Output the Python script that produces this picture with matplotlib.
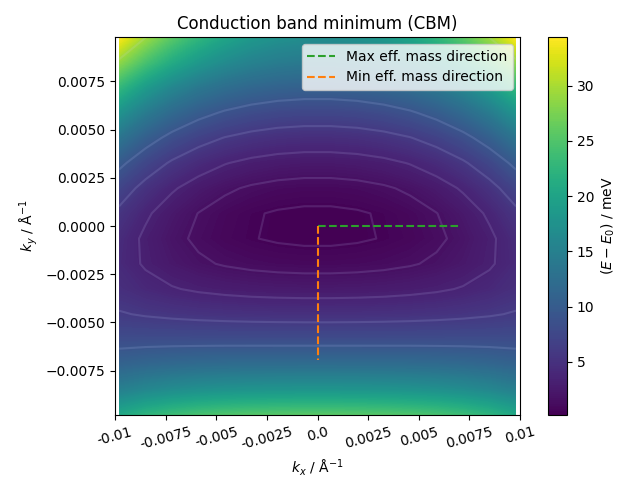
import numpy as np
import matplotlib
matplotlib.use("Agg")
import matplotlib.pyplot as plt

# k grid (1/Angstrom), 16 x 16 points
kx = np.linspace(-0.0098, 0.0098, 16)
ky = np.linspace(-0.0098, 0.0098, 16)

# E - E0 (meV) for kx >= 0, rows from ky = -0.0098 (bottom) to +0.0098 (top);
# the band is mirror symmetric in kx
e_half = [
    [25.47, 25.39, 25.22, 24.90, 24.37, 23.54, 22.31, 20.53],
    [17.86, 17.81, 17.71, 17.52, 17.21, 16.70, 15.95, 14.85],
    [12.27, 12.25, 12.21, 12.14, 12.00, 11.77, 11.42, 10.89],
    [8.04, 8.05, 8.06, 8.08, 8.09, 8.10, 8.09, 8.05],
    [4.83, 4.86, 4.92, 5.02, 5.17, 5.38, 5.66, 6.04],
    [2.49, 2.54, 2.64, 2.82, 3.08, 3.47, 4.01, 4.76],
    [0.96, 1.03, 1.17, 1.41, 1.78, 2.34, 3.12, 4.21],
    [0.20, 0.29, 0.47, 0.78, 1.26, 1.97, 2.99, 4.40],
    [0.21, 0.31, 0.53, 0.91, 1.51, 2.38, 3.63, 5.36],
    [0.95, 1.07, 1.34, 1.80, 2.51, 3.57, 5.07, 7.15],
    [2.41, 2.56, 2.88, 3.43, 4.28, 5.54, 7.32, 9.78],
    [4.57, 4.74, 5.13, 5.78, 6.79, 8.28, 10.38, 13.29],
    [7.35, 7.56, 8.02, 8.80, 10.00, 11.75, 14.24, 17.66],
    [10.61, 10.86, 11.41, 12.34, 13.76, 15.83, 18.76, 22.79],
    [14.01, 14.40, 15.20, 16.50, 18.40, 21.00, 24.40, 28.60],
    [16.88, 17.40, 18.50, 20.20, 22.60, 25.60, 29.40, 34.40],
]

line_levels = [0.42, 1.54, 3.34, 5.86, 9.1, 29.26]
max_dir_len = 0.00693
min_dir_len = 0.00693
cbar_ticks = [5, 10, 15, 20, 25, 30]

xtick_pos = [-0.01, -0.0075, -0.005, -0.0025, 0.0, 0.0025, 0.005, 0.0075, 0.01]
xtick_lab = ['-0.01', '-0.0075', '-0.005', '-0.0025', '0.0', '0.0025', '0.005', '0.0075', '0.01']

half = np.array(e_half)
E = np.hstack([half[:, ::-1], half])
KX, KY = np.meshgrid(kx, ky)

fig = plt.figure(figsize=(6.4, 4.8), dpi=100)
ax = fig.add_axes([0.1797, 0.1354, 0.6328, 0.7875])
cax = fig.add_axes([0.8563, 0.1354, 0.0297, 0.7875])

cf = ax.contourf(KX, KY, E, levels=np.linspace(E.min(), E.max(), 200), cmap='viridis')
ax.contour(KX, KY, E, levels=line_levels, colors='#c8d4ff', alpha=0.14)

ax.plot([0, max_dir_len], [0, 0], '--', color='tab:green', label='Max eff. mass direction')
ax.plot([0, 0], [0, -min_dir_len], '--', color='tab:orange', label='Min eff. mass direction')
ax.legend(loc='upper right')

ax.set_xticks(xtick_pos)
ax.set_xticklabels(xtick_lab, rotation=15)
ax.set_xlabel('$k_x$ / Å$^{-1}$')
ax.set_ylabel('$k_y$ / Å$^{-1}$')
ax.set_title('Conduction band minimum (CBM)')

cb = fig.colorbar(cf, cax=cax)
cb.set_ticks(cbar_ticks)
cb.set_label('$(E - E_0)$ / meV')

fig.savefig('out.png')
